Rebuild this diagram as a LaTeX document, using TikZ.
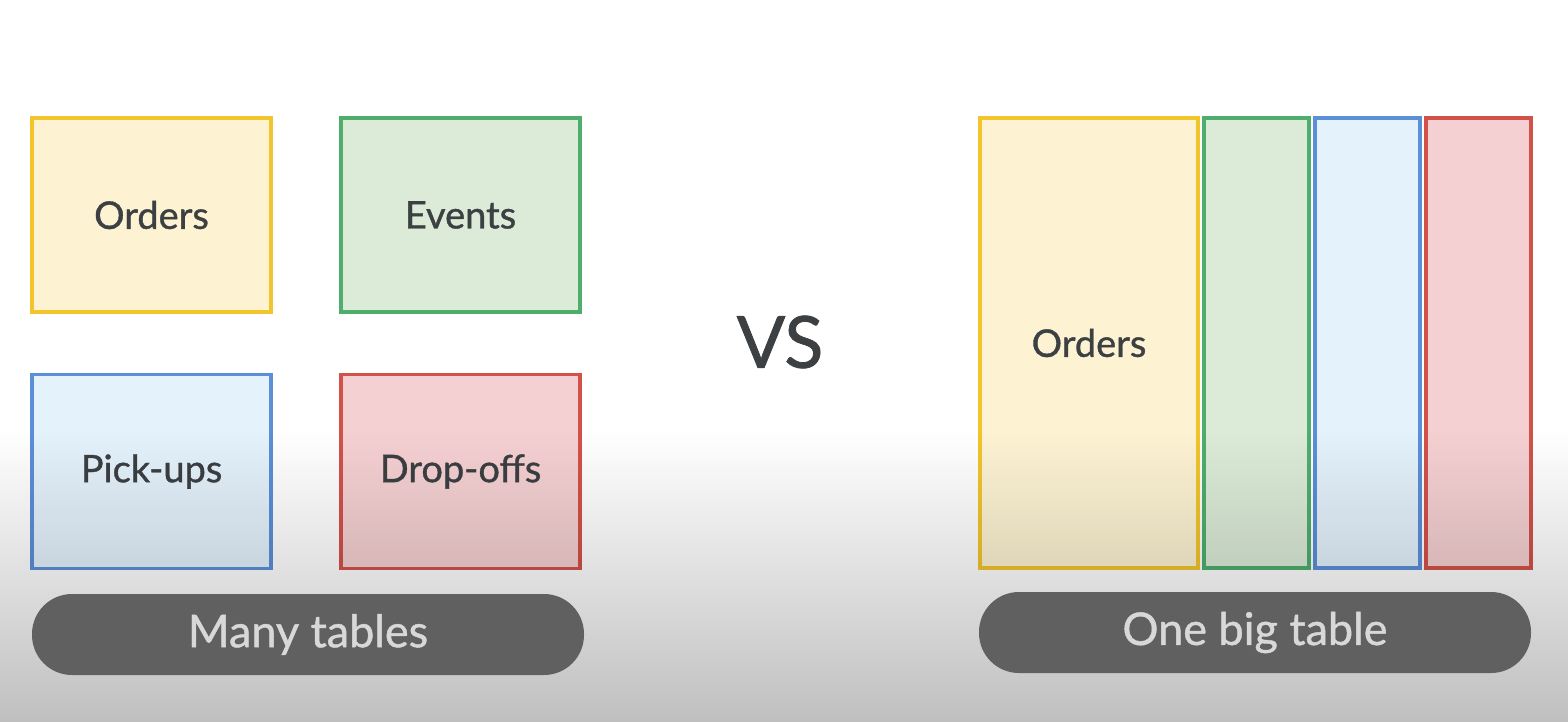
\documentclass[tikz,border=0pt]{standalone}
\usepackage{fontspec}
\setmainfont{Lato}[FakeBold=1]
\definecolor{txt}{HTML}{3C4043}
\definecolor{ylS}{HTML}{F2C52C}\definecolor{ylF}{HTML}{FDF3D3}
\definecolor{grS}{HTML}{4FAE6C}\definecolor{grF}{HTML}{DCEBD8}
\definecolor{blS}{HTML}{5B8FD8}\definecolor{blF}{HTML}{E4F2FC}
\definecolor{rdS}{HTML}{D2524A}\definecolor{rdF}{HTML}{F5D0D2}
\definecolor{pillF}{HTML}{606060}\definecolor{pillT}{HTML}{D8D8D8}
\begin{document}
\begin{tikzpicture}[x=1pt,y=-1pt,
  tbl/.style={draw, line width=3.2pt, inner sep=0pt, text=txt,
    font=\fontsize{38}{42}\selectfont},
  pill/.style={fill=pillF, rounded corners=40pt, inner sep=0pt,
    minimum width=552pt, minimum height=81pt, text=pillT,
    font=\fontsize{45}{49}\selectfont}]
\useasboundingbox (0,0) rectangle (1568,722);
\fill[white] (0,0) rectangle (1568,722);
% many tables
\node[tbl, draw=ylS, fill=ylF, minimum width=239pt, minimum height=194pt] (o1) at (151.5,215) {Orders};
\node[tbl, draw=grS, fill=grF, minimum width=239pt, minimum height=194pt] (e1) at (460.5,215) {Events};
\node[tbl, draw=blS, fill=blF, minimum width=239pt, minimum height=194pt] (p1) at (151.5,471.5) {Pick-ups};
\node[tbl, draw=rdS, fill=rdF, minimum width=239pt, minimum height=194pt] (d1) at (460.5,471.5) {Drop-offs};
% vs
\node[text=txt, font=\fontsize{72}{76}\selectfont, inner sep=0pt] (vs) at (780,342) {VS};
% one big table
\node[tbl, draw=ylS, fill=ylF, minimum width=218pt, minimum height=450pt] (o2) at (1089,343) {Orders};
\node[tbl, draw=grS, fill=grF, minimum width=105pt, minimum height=450pt] (e2) at (1256.5,343) {};
\node[tbl, draw=blS, fill=blF, minimum width=105pt, minimum height=450pt] (p2) at (1367.5,343) {};
\node[tbl, draw=rdS, fill=rdF, minimum width=105pt, minimum height=450pt] (d2) at (1478.5,343) {};
% bottom shading overlay (separate strips, opacity rising downwards)
\foreach \i in {0,...,145}{
  \pgfmathsetmacro{\op}{0.25*(\i+0.5)/146}
  \fill[black, fill opacity=\op] (0,430+2*\i) rectangle (1568,432+2*\i);
}
% labels
\node[pill] (m) at (308,634.5) {Many tables};
\node[pill] (b) at (1255,632.5) {One big table};
\end{tikzpicture}
\end{document}
